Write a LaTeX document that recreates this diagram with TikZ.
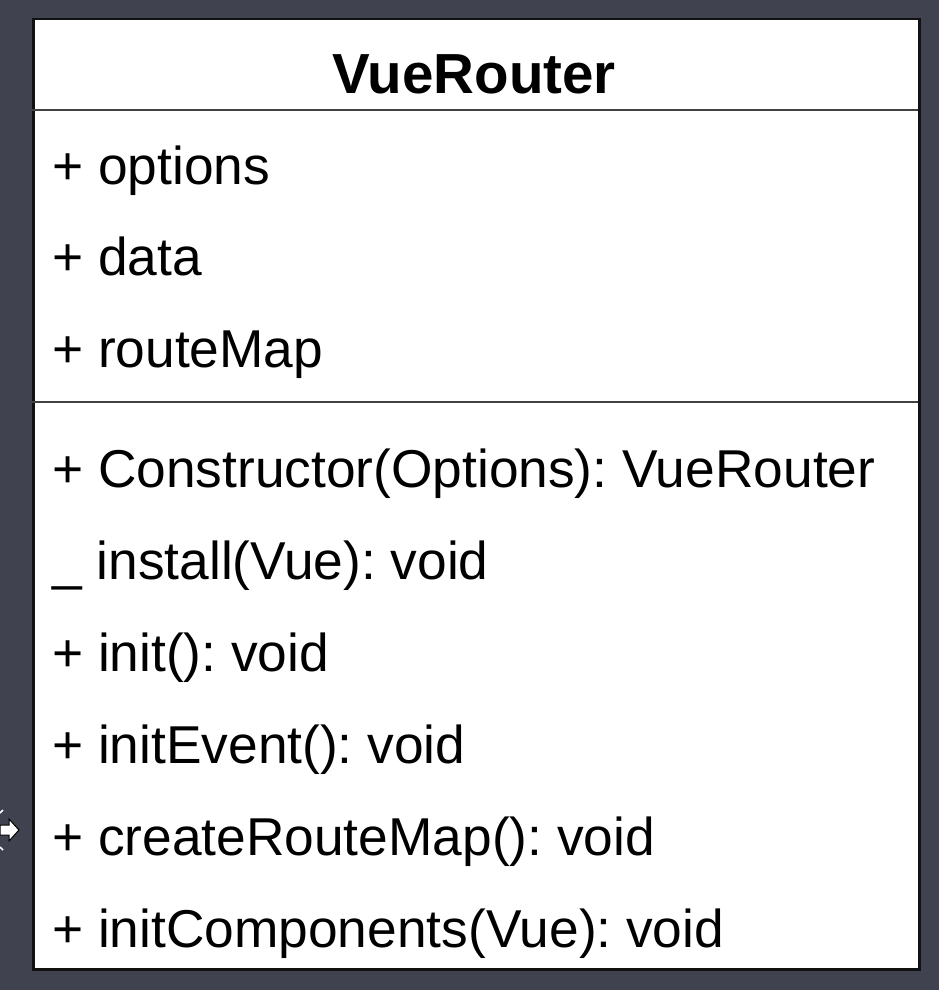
\documentclass[tikz,border=0pt]{standalone}
\usepackage{fontspec}
\setmainfont{Liberation Sans}
\definecolor{bgc}{HTML}{41424F}
\definecolor{linec}{HTML}{111111}
\frenchspacing
\begin{document}
\begin{tikzpicture}[x=1pt,y=-1pt,
  member/.style={anchor=base west,inner sep=0pt,font=\fontsize{53.3}{62}\selectfont,text=black},
  title/.style={anchor=base,inner sep=0pt,font=\fontsize{56.5}{64}\selectfont\bfseries,text=black},
  frame/.style={draw=linec,line width=2.5pt},
  sep/.style={draw=linec!80,line width=2pt}]
\fill[bgc] (0,0) rectangle (939,990);
\useasboundingbox (0,0) rectangle (939,990);
% shadow
\fill[gray!60!bgc] (36,22) rectangle (921,971);
\node[frame,fill=white,minimum width=886pt,minimum height=950pt,inner sep=0pt,anchor=north west] (box) at (32,18) {};
\coordinate (h1l) at (32,110); \coordinate (h1r) at (918,110);
\coordinate (h2l) at (32,402); \coordinate (h2r) at (918,402);
\draw[sep] (h1l) -- (h1r);
\draw[sep] (h2l) -- (h2r);
\node[title] (t) at (474,93) {VueRouter};
\node[member] (a1) at (52,184) {+ options};
\node[member] (a2) at (52,275) {+ data};
\node[member] (a3) at (52,367) {+ routeMap};
\node[member] (m1) at (52,487) {+ Constructor(Options): VueRouter};
\node[member] (m2) at (52,579) {\_ install(Vue): void};
\node[member] (m3) at (52,671) {+ init(): void};
\node[member] (m4) at (52,763) {+ initEvent(): void};
\node[member] (m5) at (52,855) {+ createRouteMap(): void};
\node[member] (m6) at (52,947) {+ initComponents(Vue): void};
% cursor artifact
\draw[fill=white,draw=black,line width=1pt,line join=miter] (0,825) -- (9,825) -- (9,819) -- (19,830) -- (9,841) -- (9,835) -- (0,835) -- cycle;
\draw[white,line width=1.5pt] (0,813) -- (3,810);
\draw[white,line width=1.5pt] (0,847) -- (3,850);
\end{tikzpicture}
\end{document}
